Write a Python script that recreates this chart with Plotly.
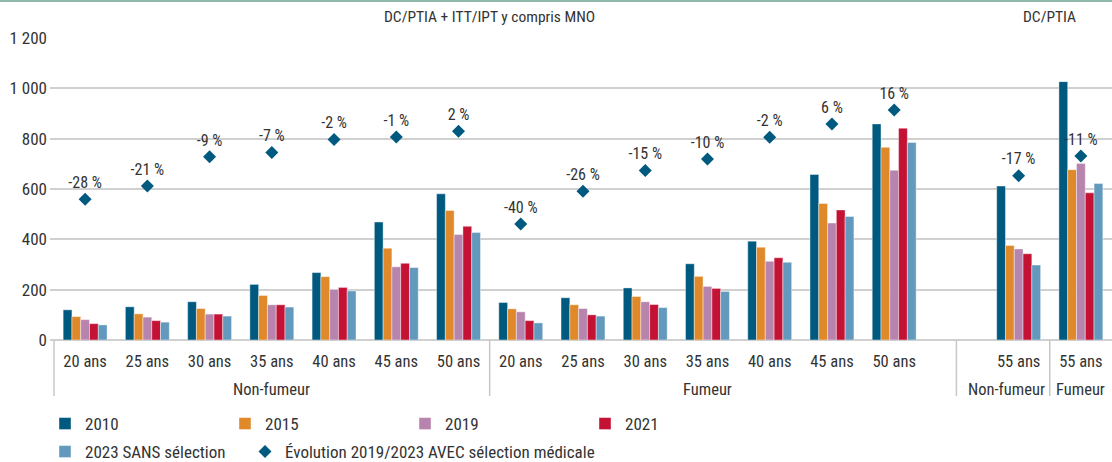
import plotly.graph_objects as go

# ---------------- data ----------------
ages = ["20 ans", "25 ans", "30 ans", "35 ans", "40 ans", "45 ans", "50 ans",
        "20 ans", "25 ans", "30 ans", "35 ans", "40 ans", "45 ans", "50 ans",
        "", "55 ans", "55 ans"]
groups = ["Non-fumeur"] * 7 + ["Fumeur"] * 7 + [""] + ["Non-fumeur", "Fumeur"]

v2010 = [120, 132, 152, 221, 268, 469, 581, 149, 168, 207, 303, 393, 658, 859, None, 612, 1027]
v2015 = [93, 104, 125, 177, 252, 365, 515, 124, 140, 173, 253, 369, 543, 766, None, 376, 677]
v2019 = [81, 91, 103, 140, 201, 291, 419, 112, 125, 152, 213, 313, 465, 675, None, 362, 702]
v2021 = [65, 77, 103, 140, 209, 305, 452, 77, 100, 141, 205, 327, 517, 842, None, 343, 585]
v2023 = [60, 71, 95, 131, 195, 288, 427, 68, 95, 129, 193, 309, 491, 785, None, 298, 622]
evol_y = [560, 612, 728, 745, 797, 807, 830, 461, 591, 674, 720, 806, 859, 914, None, 653, 731]
evol_txt = ["-28 %", "-21 %", "-9 %", "-7 %", "-2 %", "-1 %", "2 %",
            "-40 %", "-26 %", "-15 %", "-10 %", "-2 %", "6 %", "16 %",
            "", "-17 %", "-11 %"]

y_ticks = [0, 200, 400, 600, 800, 1000, 1200]
y_ticktext = ["0", "200", "400", "600", "800", "1 000", "1 200"]

headers = ["DC/PTIA + ITT/IPT y compris MNO", "DC/PTIA"]

series = [("2010", v2010, "#005A80"), ("2015", v2015, "#E0892A"),
          ("2019", v2019, "#B784AD"), ("2021", v2021, "#C41235"),
          ("2023 SANS sélection", v2023, "#6399BC")]

# ---------------- layout helpers ----------------
W, H = 1112, 462
FONT = "Liberation Sans Narrow, Arial Narrow, Roboto Condensed, DejaVu Sans Condensed, sans-serif"
TXT = "#333333"
GRID = "#d0d0d0"


def py(p):  # pixel y -> paper
    return 1 - p / H


def px(p):  # pixel x -> paper
    return p / W


idx = list(range(len(ages)))
slot_px = (W - 54) / len(ages)

fig = go.Figure()
for i, (name, vals, col) in enumerate(series):
    fig.add_trace(go.Bar(
        x=idx, y=vals, name=name, marker_color=col,
        marker_line=dict(width=0.6, color="rgba(255,255,255,0.7)"),
        legend="legend" if i < 4 else "legend2",
    ))

fig.add_trace(go.Scatter(
    x=idx, y=evol_y, mode="markers+text", text=evol_txt,
    textposition="top center", textfont=dict(size=16, color=TXT, family=FONT),
    marker=dict(symbol="diamond", size=10, color="#005A80"),
    name="Évolution 2019/2023 AVEC sélection médicale",
    legend="legend3", cliponaxis=False,
))

# group labels under the axis
annotations = []
i = 0
while i < len(groups):
    j = i
    while j + 1 < len(groups) and groups[j + 1] == groups[i]:
        j += 1
    if groups[i]:
        center = (i + j) / 2
        shift = -12 if (i == j and groups[i] == "Non-fumeur") else 0
        annotations.append(dict(x=center, y=py(389), xref="x", yref="paper",
                                xanchor="center", yanchor="middle",
                                text=groups[i], showarrow=False, xshift=shift,
                                font=dict(size=16.5, color=TXT, family=FONT)))
    i = j + 1

# headers
for hx, htxt in zip([6.5, 15.5], headers):
    annotations.append(dict(x=hx, y=py(17), xref="x", yref="paper",
                            xanchor="center", yanchor="middle", text=htxt,
                            showarrow=False, font=dict(size=15.5, color=TXT, family=FONT)))

shapes = [dict(type="line", xref="paper", yref="paper", x0=0, x1=1,
               y0=py(1), y1=py(1), line=dict(color="#8fb8a8", width=2))]
for sx in [-0.5, 6.5, 14.0, 15.5]:
    shapes.append(dict(type="line", xref="x", yref="paper", x0=sx, x1=sx,
                       y0=py(340), y1=py(396), line=dict(color="#c8c8c8", width=1.5)))

legend_common = dict(orientation="h", xanchor="left", yanchor="middle",
                     font=dict(size=17, color=TXT, family=FONT),
                     bgcolor="rgba(0,0,0,0)", traceorder="normal")

fig.update_layout(
    width=W, height=H, margin=dict(l=0, r=0, t=0, b=0, autoexpand=False),
    paper_bgcolor="white", plot_bgcolor="white",
    font=dict(family=FONT, size=17, color=TXT),
    barmode="group", bargap=0.294, bargroupgap=0,
    xaxis=dict(domain=[px(50), 1], range=[-0.5 - 4 / slot_px, len(ages) - 0.5],
               tickmode="array", tickvals=[k for k in idx if ages[k]],
               ticktext=[a for a in ages if a], ticks="", showgrid=False,
               zeroline=False, showline=False, ticklabelstandoff=9,
               tickfont=dict(size=16.5, color=TXT, family=FONT)),
    yaxis=dict(domain=[py(340), py(38)], range=[0, 1200.5],
               tickmode="array", tickvals=y_ticks, ticktext=y_ticktext,
               showgrid=True, gridcolor=GRID, gridwidth=1.5,
               zeroline=True, zerolinecolor=GRID, zerolinewidth=1.5,
               showline=False, ticks="", ticklabelstandoff=2,
               tickfont=dict(size=17, color=TXT, family=FONT)),
    legend=dict(x=px(45), y=py(424), entrywidth=135, **legend_common),
    legend2=dict(x=px(45), y=py(452), **legend_common),
    legend3=dict(x=px(245), y=py(452), **legend_common),
    annotations=annotations, shapes=shapes, showlegend=True,
)

fig.write_html("out.html",
               config={"displayModeBar": False},
               post_script="document.body.style.margin='0px';"
                           "document.body.style.overflow='hidden';")
